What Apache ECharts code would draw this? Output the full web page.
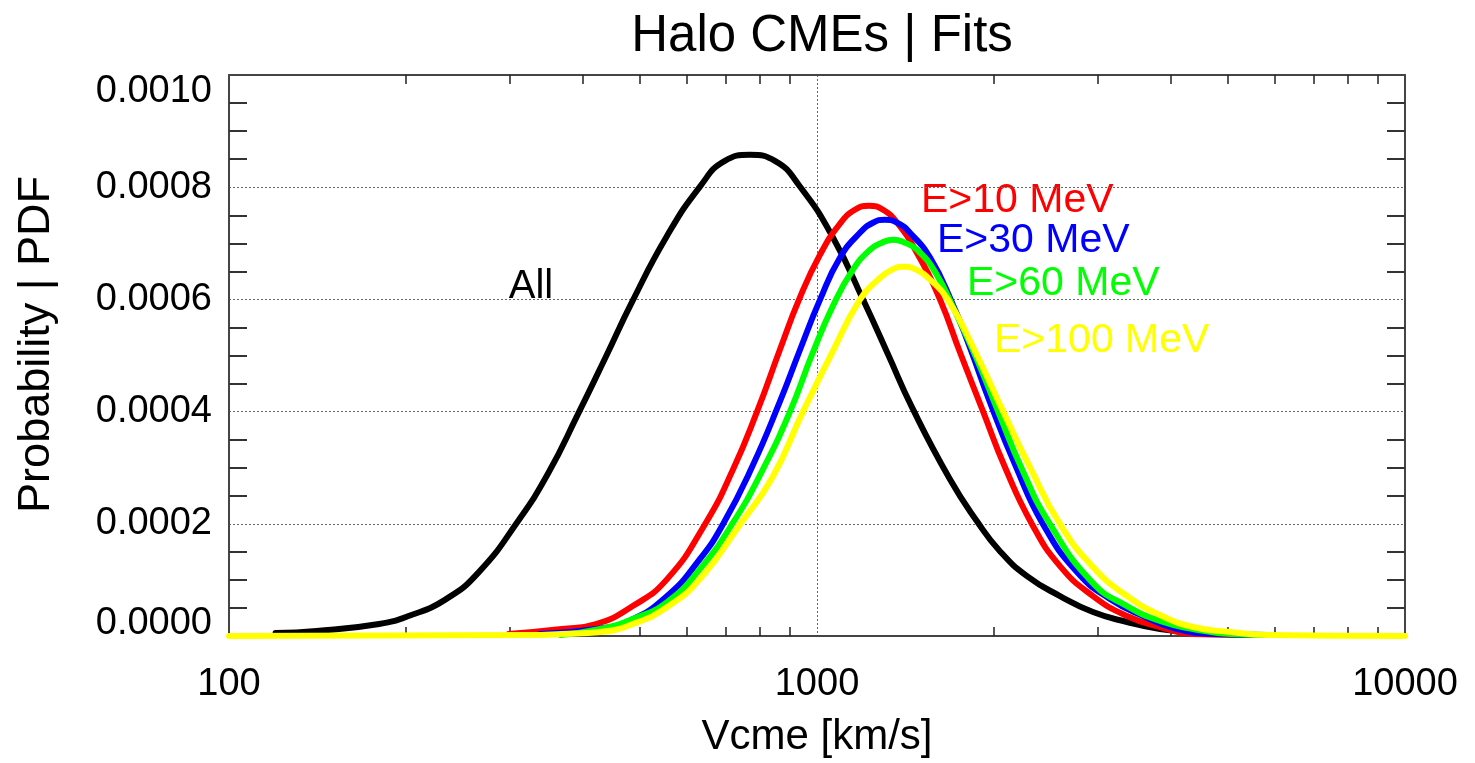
<!DOCTYPE html>
<html>
<head>
<meta charset="utf-8">
<title>Halo CMEs | Fits</title>
<script src="https://cdn.jsdelivr.net/npm/echarts@6.0.0/dist/echarts.min.js"></script>
<style>
  html, body { margin: 0; padding: 0; background: #fff; }
  #chart { width: 1475px; height: 763px; }
</style>
</head>
<body>
<div id="chart"></div>
<script>
// CME speed (km/s) and fitted PDF
var allV = [120, 141, 180, 202, 234, 266, 310, 349, 392, 436, 485, 556, 632, 697, 769, 848, 936, 1065, 1202, 1321, 1451, 1683, 1871, 2047, 2276, 2590, 2947, 3367, 3831, 4360, 5450]
var allP = [0.0000053, 0.0000089, 0.0000214, 0.0000356, 0.0000658, 0.0001139, 0.0002046, 0.0002900, 0.0003950, 0.0004947, 0.0005961, 0.0007135, 0.0008007, 0.0008470, 0.0008577, 0.0008470, 0.0008007, 0.0007100, 0.0005961, 0.0005018, 0.0004075, 0.0002794, 0.0002046, 0.0001512, 0.0001068, 0.0000712, 0.0000427, 0.0000249, 0.0000125, 0.0000071, 0.0000018]

var e10V = [299, 368, 421, 486, 556, 645, 720, 791, 865, 932, 1012, 1094, 1160, 1226, 1295, 1373, 1485, 1619, 1751, 1916, 2088, 2321, 2590, 2947, 3367, 3831, 4360, 5450]
var e10P = [0.0000036, 0.0000125, 0.0000214, 0.0000534, 0.0001014, 0.0001993, 0.0002972, 0.0004004, 0.0005107, 0.0005996, 0.0006797, 0.0007349, 0.0007598, 0.0007669, 0.0007598, 0.0007349, 0.0006797, 0.0005996, 0.0005053, 0.0004004, 0.0003007, 0.0001993, 0.0001246, 0.0000712, 0.0000356, 0.0000160, 0.0000036, 0.0000018]

var e30V = [338, 421, 479, 556, 632, 692, 775, 865, 936, 1012, 1094, 1183, 1245, 1305, 1368, 1439, 1557, 1697, 1820, 1969, 2171, 2423, 2768, 3150, 3585, 4095, 4789, 5848]
var e30P = [0.0000036, 0.0000125, 0.0000267, 0.0000712, 0.0001370, 0.0001993, 0.0003007, 0.0004181, 0.0005107, 0.0005996, 0.0006744, 0.0007189, 0.0007367, 0.0007420, 0.0007367, 0.0007189, 0.0006744, 0.0005943, 0.0005142, 0.0004164, 0.0003060, 0.0001993, 0.0001139, 0.0000658, 0.0000356, 0.0000125, 0.0000036, 0.0000018]

var e60V = [366, 428, 486, 556, 632, 717, 806, 900, 981, 1065, 1151, 1231, 1290, 1347, 1411, 1479, 1587, 1730, 1871, 2032, 2232, 2490, 2947, 3367, 3831, 4360, 5039, 5848]
var e60P = [0.0000018, 0.0000125, 0.0000302, 0.0000605, 0.0001192, 0.0001993, 0.0002936, 0.0004004, 0.0005018, 0.0005890, 0.0006530, 0.0006886, 0.0007011, 0.0007064, 0.0007011, 0.0006886, 0.0006495, 0.0005712, 0.0004929, 0.0004004, 0.0002972, 0.0001993, 0.0000943, 0.0000534, 0.0000267, 0.0000125, 0.0000036, 0.0000018]

var e100V = [100, 324, 368, 428, 486, 556, 632, 740, 838, 947, 1061, 1183, 1270, 1341, 1406, 1474, 1557, 1670, 1857, 2072, 2303, 2590, 2947, 3367, 3831, 4360, 5039, 5848, 10000]
var e100P = [0, 0.0000018, 0.0000036, 0.0000071, 0.0000214, 0.0000516, 0.0001014, 0.0001993, 0.0002811, 0.0004004, 0.0005053, 0.0005996, 0.0006352, 0.0006530, 0.0006584, 0.0006530, 0.0006352, 0.0005996, 0.0005071, 0.0004004, 0.0003007, 0.0001993, 0.0001228, 0.0000712, 0.0000374, 0.0000160, 0.0000071, 0.0000018, 0]

var seriesNames = ['All', 'E>10 MeV', 'E>30 MeV', 'E>60 MeV', 'E>100 MeV']
var seriesColors = ['#000000', '#ff0000', '#0000ff', '#00ff00', '#ffff00']
var seriesV = [allV, e10V, e30V, e60V, e100V]
var seriesP = [allP, e10P, e30P, e60P, e100P]

var FONT = '"Liberation Sans", Arial, Helvetica, sans-serif'

// minor ticks: 2..9 in each decade on x, every 0.00005 on y
var xMinor = []
;[100, 1000].forEach(function(dec) {
  for (var k = 2; k <= 9; k++) xMinor.push(k * dec)
})
var yMinor = []
for (var i = 1; i < 20; i++) {
  if (i % 4 !== 0) yMinor.push(+(i * 0.00005).toFixed(5))
}

var boxLine = { show: true, onZero: false, lineStyle: { color: '#444', width: 2 } }
var noLine = { show: false, onZero: false }
var dotted = { show: true, lineStyle: { color: '#666', width: 1, type: [2, 2] } }
var xTicks = { show: true, inside: true, length: 9, customValues: xMinor, lineStyle: { color: '#222', width: 1.5 } }
var yTicks = { show: true, inside: true, length: 18, customValues: yMinor, lineStyle: { color: '#333', width: 2 } }

function pairs(xs, ys) {
  return xs.map(function(x, i) { return [x, ys[i]] })
}

// one axis per side for the frame + minor ticks, and a bare one for the dotted grid
function xAxisOf(pos, extra) {
  return Object.assign({
    type: 'log', logBase: 10, min: 100, max: 10000, position: pos,
    axisLine: noLine, axisTick: { show: false }, axisLabel: { show: false }, splitLine: { show: false }
  }, extra)
}
function yAxisOf(pos, extra) {
  return Object.assign({
    type: 'value', min: 0, max: 0.001, interval: 0.0002, position: pos,
    axisLine: noLine, axisTick: { show: false }, axisLabel: { show: false }, splitLine: { show: false }
  }, extra)
}

var chart = echarts.init(document.getElementById('chart'))

chart.setOption({
  animation: false,
  backgroundColor: '#fff',
  title: {
    text: 'Halo CMEs | Fits',
    left: 817,
    top: 6,
    textAlign: 'center',
    textStyle: { fontFamily: FONT, fontSize: 51, fontWeight: 'normal', color: '#000' }
  },
  grid: { left: 229, right: 70, top: 75, bottom: 126 },
  xAxis: [
    xAxisOf('bottom', {
      axisLine: boxLine,
      axisTick: xTicks,
      axisLabel: {
        show: true, fontFamily: FONT, fontSize: 38, color: '#000', margin: 30,
        formatter: function(v) { return String(Math.round(v)) }
      },
      name: 'Vcme [km/s]',
      nameLocation: 'middle',
      nameGap: 80,
      nameTextStyle: { fontFamily: FONT, fontSize: 42, color: '#000' }
    }),
    xAxisOf('top', { axisLine: boxLine, axisTick: xTicks }),
    xAxisOf('bottom', { splitLine: dotted })
  ],
  yAxis: [
    yAxisOf('left', {
      axisLine: boxLine,
      axisTick: yTicks,
      axisLabel: {
        show: true, fontFamily: FONT, fontSize: 38, color: '#000', margin: 17,
        formatter: function(v) {
          var s = v.toFixed(4)
          if (v >= 0.001) return '{top|' + s + '}'
          if (v <= 0) return '{bot|' + s + '}'
          return s
        },
        rich: {
          top: { fontFamily: FONT, fontSize: 38, color: '#000', padding: [34, 0, 0, 0] },
          bot: { fontFamily: FONT, fontSize: 38, color: '#000', padding: [0, 0, 24, 0] }
        }
      },
      name: 'Probability | PDF',
      nameLocation: 'middle',
      nameRotate: 90,
      nameGap: 170,
      nameTextStyle: { fontFamily: FONT, fontSize: 45, color: '#000', padding: [0, 0, 0, 22] }
    }),
    yAxisOf('right', { axisLine: boxLine, axisTick: yTicks }),
    yAxisOf('left', { splitLine: dotted })
  ],
  series: seriesNames.map(function(name, i) {
    return {
      name: name,
      type: 'line',
      xAxisIndex: 0,
      yAxisIndex: 0,
      data: pairs(seriesV[i], seriesP[i]),
      showSymbol: false,
      symbol: 'none',
      smooth: 0.5,
      clip: false,
      lineStyle: { color: seriesColors[i], width: 6, cap: 'round', join: 'round' },
      z: 2 + i
    }
  }),
  // curve labels, placed by hand like in the original plot
  graphic: [
    { type: 'text', x: 531, y: 287, style: { text: 'All', fill: '#000', fontFamily: FONT, fontSize: 40, textAlign: 'center', textVerticalAlign: 'middle' } },
    { type: 'text', x: 921, y: 201, style: { text: 'E>10 MeV', fill: '#ff0000', fontFamily: FONT, fontSize: 41, textAlign: 'left', textVerticalAlign: 'middle' } },
    { type: 'text', x: 937, y: 241, style: { text: 'E>30 MeV', fill: '#0000ff', fontFamily: FONT, fontSize: 41, textAlign: 'left', textVerticalAlign: 'middle' } },
    { type: 'text', x: 967, y: 284, style: { text: 'E>60 MeV', fill: '#00ff00', fontFamily: FONT, fontSize: 41, textAlign: 'left', textVerticalAlign: 'middle' } },
    { type: 'text', x: 994, y: 341, style: { text: 'E>100 MeV', fill: '#ffff00', fontFamily: FONT, fontSize: 41, textAlign: 'left', textVerticalAlign: 'middle' } }
  ]
})
</script>
</body>
</html>
